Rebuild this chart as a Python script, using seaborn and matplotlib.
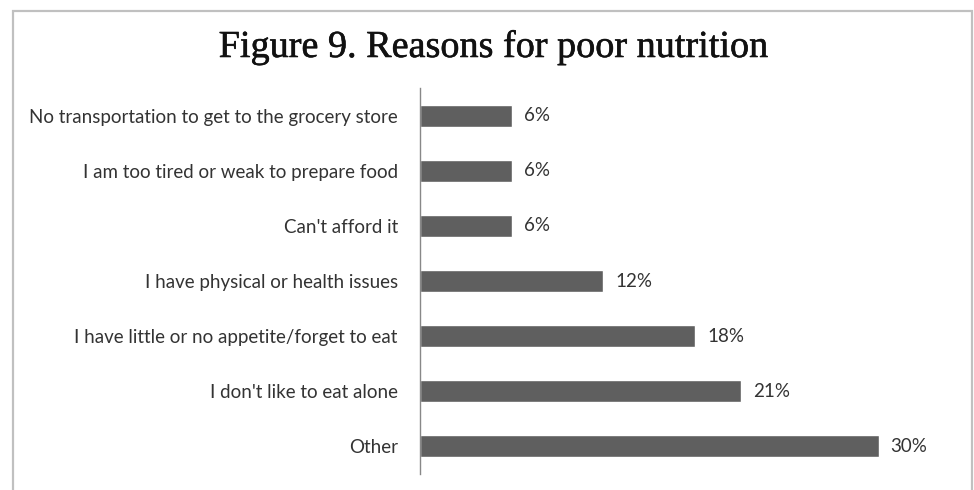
import matplotlib
matplotlib.use("Agg")
import matplotlib.pyplot as plt
import matplotlib.patches as mpatches
import matplotlib.patheffects as pe
import seaborn as sns
import pandas as pd

categories = [
    "No transportation to get to the grocery store",
    "I am too tired or weak to prepare food",
    "Can't afford it",
    "I have physical or health issues",
    "I have little or no appetite/forget to eat",
    "I don't like to eat alone",
    "Other",
]
values = [6, 6, 6, 12, 18, 21, 30]
title = "Figure 9. Reasons for poor nutrition"

df = pd.DataFrame({"reason": categories, "pct": values})

sns.set_theme(style="white")
plt.rcParams["font.family"] = ["Lato", "DejaVu Sans"]

W, H = 974, 490
fig = plt.figure(figsize=(W / 100, H / 100), dpi=100)

# outer chart frame
frame = mpatches.Rectangle((12.5 / W, -0.05), (971.5 - 12.5) / W, 1.05 - 11.5 / H,
                           transform=fig.transFigure, fill=False,
                           edgecolor="#c0c0c0", linewidth=1.6)
fig.patches.append(frame)

ax = fig.add_axes([420 / W, 1 - 474 / H, (955 - 420) / W, (474 - 88) / H])
sns.barplot(data=df, y="reason", x="pct", orient="h", color="#5f5f5f",
            width=0.4, saturation=1, ax=ax)

ax.set_xlim(0, 35)
ax.set_ylim(len(categories) - 0.5, -0.5)
ax.set_xlabel("")
ax.set_ylabel("")
ax.set_xticks([])
for s in ("top", "right", "bottom"):
    ax.spines[s].set_visible(False)
ax.spines["left"].set_color("#888888")
ax.spines["left"].set_linewidth(1)
ax.tick_params(axis="y", length=0, pad=16, labelsize=13.5, labelcolor="#333333")

ax.bar_label(ax.containers[0], labels=[f"{v}%" for v in values],
             padding=8.5, fontsize=13.5, color="#333333")

fig.text(494.5 / W, 1 - 57 / H, title, ha="center", va="baseline",
         fontsize=27.5, family=["Liberation Serif", "DejaVu Serif"], color="#111111",
         path_effects=[pe.withStroke(linewidth=0.4, foreground="#111111")])

fig.savefig("out.png", dpi=100)
